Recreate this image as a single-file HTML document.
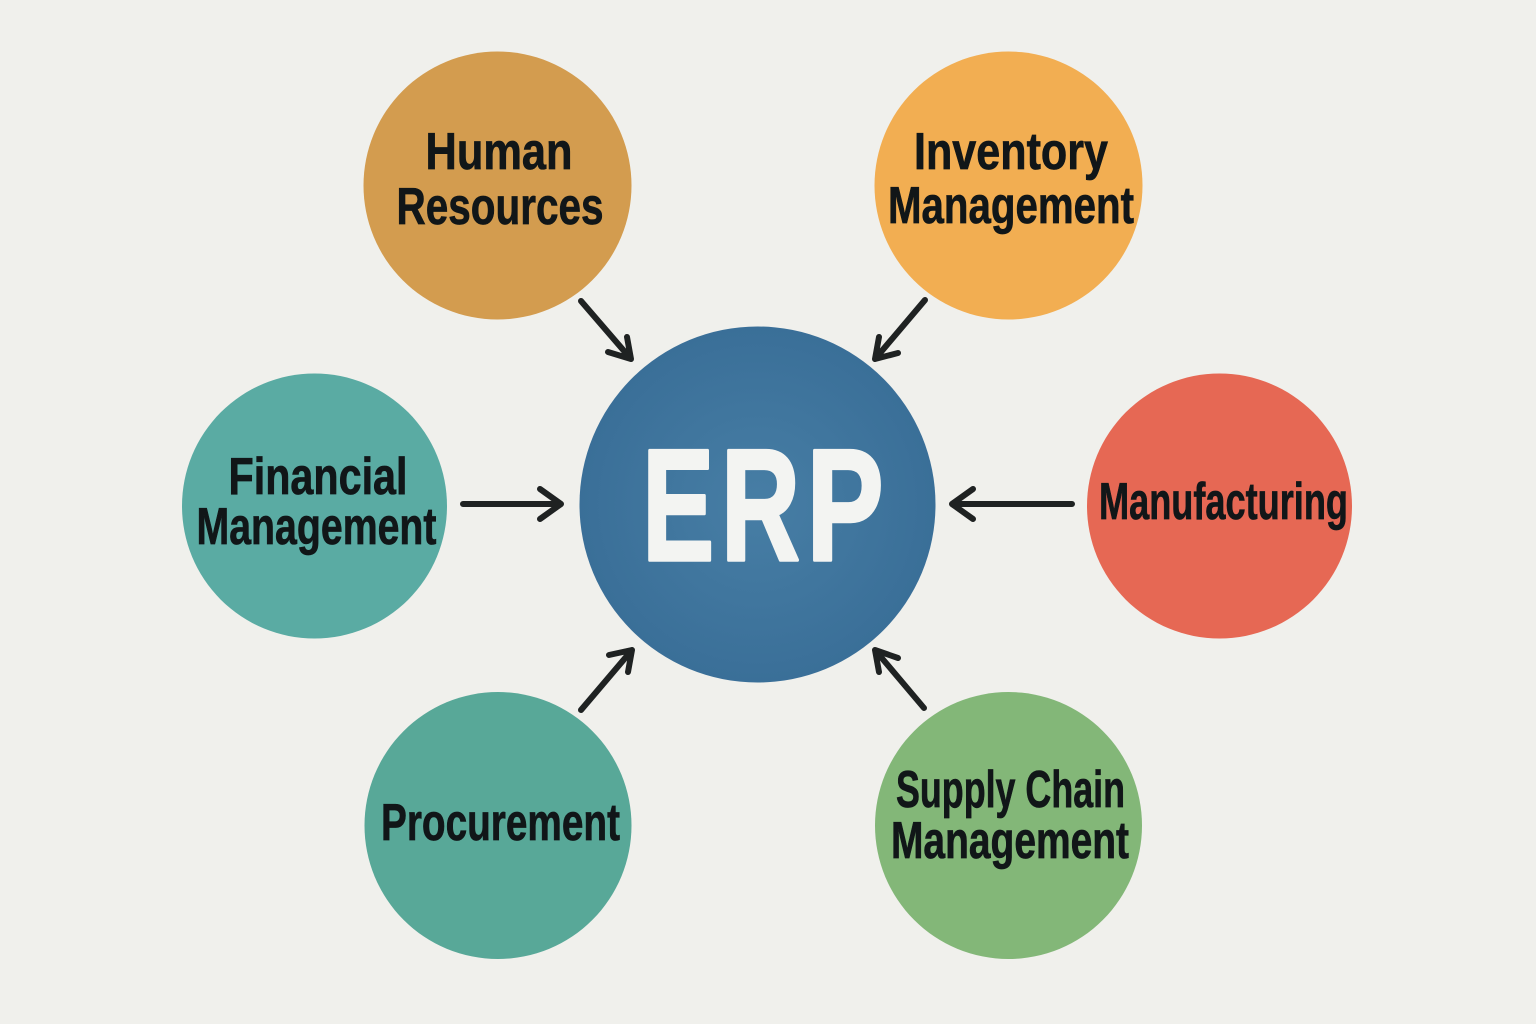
<!DOCTYPE html>
<html>
<head>
<meta charset="utf-8">
<style>
html,body{margin:0;padding:0;background:#f0f0ec;}
svg{display:block;}
text{font-family:"Liberation Sans",sans-serif;font-weight:700;}
.l text{fill:#111618;stroke:#111618;stroke-width:.7;text-anchor:middle;}
.e text{fill:#f3f4f2;stroke:#f3f4f2;stroke-width:3.5;stroke-linejoin:round;text-anchor:start;}
</style>
</head>
<body>
<svg width="1536" height="1024" viewBox="0 0 1536 1024" xmlns="http://www.w3.org/2000/svg">
<defs>
<radialGradient id="g" cx="50%" cy="50%" r="50%">
<stop offset="0" stop-color="#477ea5"/>
<stop offset="1" stop-color="#3a6f98"/>
</radialGradient>
</defs>
<rect width="1536" height="1024" fill="#f0f0ec"/>
<circle cx="497.500" cy="185.500" r="134" fill="#d39c4f"/>
<circle cx="1008.500" cy="185.500" r="134" fill="#f2ae52"/>
<circle cx="314.500" cy="506" r="132.500" fill="#5aaba3"/>
<circle cx="1219.500" cy="506" r="132.500" fill="#e66854"/>
<circle cx="498" cy="825.500" r="133.500" fill="#58a898"/>
<circle cx="1008.500" cy="825.500" r="133.500" fill="#83b778"/>
<circle cx="757.500" cy="504.500" r="178" fill="url(#g)"/>

<g stroke="#1f2222" stroke-width="6" fill="none" stroke-linecap="round" stroke-linejoin="round">
<path d="M581 301L631 359M627 337L631 359L608 352"/>
<path d="M925 300L875 359M898 353L875 359L879 337"/>
<path d="M463 504H561M540 489L561 504L540 519"/>
<path d="M1072 504H952M973 489L952 504L973 519"/>
<path d="M581 710L632 650M609 655L632 650L628 672"/>
<path d="M924 708L875 650M898 658L875 650L879 672"/>
</g>

<g class="l" font-size="52">
<text x="499" y="169" textLength="147" lengthAdjust="spacingAndGlyphs">Human</text>
<text x="500" y="224" textLength="207" lengthAdjust="spacingAndGlyphs">Resources</text>
<text x="1011" y="169" textLength="194" lengthAdjust="spacingAndGlyphs">Inventory</text>
<text x="1011" y="223" textLength="246" lengthAdjust="spacingAndGlyphs">Management</text>
<text x="318" y="494" textLength="179" lengthAdjust="spacingAndGlyphs">Financial</text>
<text x="316.500" y="544" textLength="240" lengthAdjust="spacingAndGlyphs">Management</text>
<text x="1223.500" y="519" textLength="249" lengthAdjust="spacingAndGlyphs">Manufacturing</text>
<text x="500.500" y="840" textLength="239" lengthAdjust="spacingAndGlyphs">Procurement</text>
<text x="1010.500" y="807" textLength="229" lengthAdjust="spacingAndGlyphs">Supply Chain</text>
<text x="1010" y="858" textLength="238" lengthAdjust="spacingAndGlyphs">Management</text>
</g>
<g class="e" font-size="159">
<text x="642.200" y="560" textLength="72" lengthAdjust="spacingAndGlyphs">E</text>
<text x="721" y="560" textLength="79" lengthAdjust="spacingAndGlyphs">R</text>
<text x="806.600" y="560" textLength="77" lengthAdjust="spacingAndGlyphs">P</text>
</g>
</svg>
</body>
</html>
